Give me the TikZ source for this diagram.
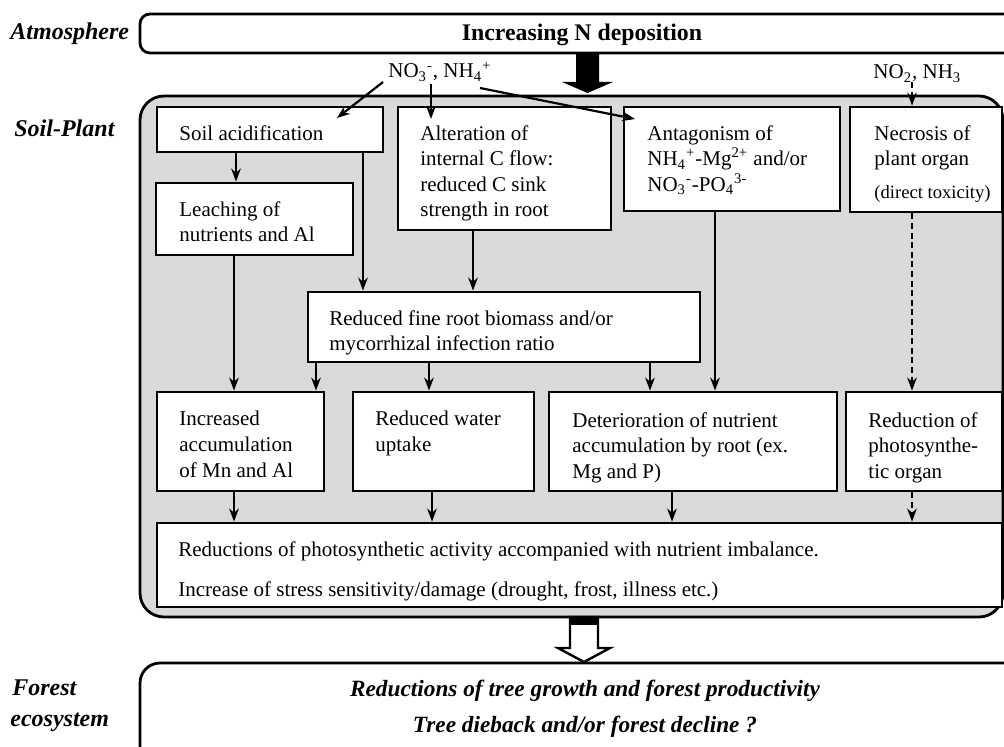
\documentclass[tikz,border=0pt]{standalone}
\usepackage{fontspec}
\setmainfont{Liberation Serif}
\usetikzlibrary{arrows.meta,fit,calc}
\begin{document}
\begin{tikzpicture}[x=0.5pt,y=-0.5pt,
  box/.style={draw, line width=1.4pt, fill=white, inner sep=0pt, rectangle},
  container/.style={draw, line width=1.4pt, inner sep=0pt, rectangle},
  txt/.style={anchor=north west, inner sep=0pt, align=left, font=\fontsize{10.5}{12.8}\selectfont},
  arr/.style={line width=1.1pt, -{Stealth[length=6.5pt,width=4.8pt]}},
  darr/.style={arr, dash pattern=on 3pt off 1.8pt},
  lbl/.style={anchor=base west, inner sep=0pt, font=\fontsize{12}{15}\selectfont\bfseries\itshape},
  ftxt/.style={anchor=base, inner sep=0pt, font=\fontsize{11.65}{14}\selectfont\bfseries\itshape},
  chem/.style={anchor=base west, inner sep=0pt, font=\fontsize{10.5}{12.8}\selectfont}
]
\useasboundingbox (0,0) rectangle (1004,747);
\clip (0,0) rectangle (1004,747);

% side labels
\node[lbl] (lAtm) at (10,40) {Atmosphere};
\node[lbl] (lSoil) at (14,137) {Soil-Plant};
\node[lbl] (lFor1) at (12,695) {Forest};
\node[lbl] (lFor2) at (10,726) {ecosystem};

% containers
\node[container, rounded corners=5pt, fit={(140,14)(1040,53)}] (atm) {};
\node[container, rounded corners=12pt, fill=black!15, fit={(140,96)(1003,617)}] (sp) {};
\node[container, rounded corners=10pt, fit={(140,663)(1040,770)}] (forest) {};

\node[anchor=base, inner sep=0pt, font=\fontsize{11.9}{14}\selectfont\bfseries] (title) at (582,41) {Increasing N deposition};

% chemical labels
\node[chem] (no3) at (388,78) {NO\textsubscript{3}\textsuperscript{-}, NH\textsubscript{4}\textsuperscript{+}};
\node[chem] (no2) at (873,79) {NO\textsubscript{2}, NH\textsubscript{3}};

% boxes
\node[box, fit={(157,107)(383,152)}] (soil) {};
\node[box, fit={(398,107)(611,230)}] (alter) {};
\node[box, fit={(624,107)(840,211)}] (antag) {};
\node[box, fit={(850,107)(1002,212)}] (necro) {};
\node[box, fit={(156,183)(353,255)}] (leach) {};
\node[box, fit={(308,292)(700,362)}] (fine) {};
\node[box, fit={(157,392)(324,491)}] (incr) {};
\node[box, fit={(353,392)(534,491)}] (water) {};
\node[box, fit={(549,392)(837,491)}] (deter) {};
\node[box, fit={(846,392)(1002,491)}] (photo) {};
\node[box, fit={(157,523)(1002,607)}] (reduc) {};

% texts
\node[txt] (soilT) at (179,125) {Soil acidification};
\node[txt] (alterT) at (420,125) {Alteration of\\internal C flow:\\reduced C sink\\strength in root};
\node[txt] (antagT) at (647,125) {Antagonism of\\NH\textsubscript{4}\textsuperscript{+}-Mg\textsuperscript{2+} and/or\\NO\textsubscript{3}\textsuperscript{-}-PO\textsubscript{4}\textsuperscript{3-}};
\node[txt] (necroT) at (874,125) {Necrosis of\\plant organ};
\node[anchor=base west, inner sep=0pt, font=\fontsize{9.3}{11}\selectfont] (necroS) at (874,199) {(direct toxicity)};
\node[txt] (leachT) at (179,201) {Leaching of\\nutrients and Al};
\node[txt] (fineT) at (329,310) {Reduced fine root biomass and/or\\mycorrhizal infection ratio};
\node[txt] (incrT) at (179,411) {Increased\\accumulation\\of Mn and Al};
\node[txt] (waterT) at (375,411) {Reduced water\\uptake};
\node[txt] (deterT) at (572,412) {Deterioration of nutrient\\accumulation by root (ex.\\Mg and P)};
\node[txt] (photoT) at (868,412) {Reduction of\\photosynthe-\\tic organ};
\node[txt] (reducT) at (178,541) {Reductions of photosynthetic activity accompanied with nutrient imbalance.\\[7.3pt]Increase of stress sensitivity/damage (drought, frost, illness etc.)};

% forest texts
\node[ftxt] (f1) at (585,696) {Reductions of tree growth and forest productivity};
\node[ftxt] (f2) at (585,732) {Tree dieback and/or forest decline ?};

% big arrows
\fill (576,53) -- (599,53) -- (599,82) -- (613,82) -- (587.5,93) -- (562,82) -- (576,82) -- cycle;
\draw[line width=1.2pt, fill=white] (570,617) -- (598,617) -- (598,648) -- (610,648) -- (584,662) -- (558,648) -- (570,648) -- cycle;
\fill (570,617) rectangle (598,625);

% column coordinates
\coordinate (c234) at (234,0);
\coordinate (c236) at (236,0);
\coordinate (c316) at (316,0);
\coordinate (c363) at (363,0);
\coordinate (c429) at (429,0);
\coordinate (c432) at (432,0);
\coordinate (c473) at (473,0);
\coordinate (c650) at (650,0);
\coordinate (c672) at (672,0);
\coordinate (c715) at (715,0);
\coordinate (c912) at (912,0);

% deposition arrows
\coordinate (s1) at (383,82);
\coordinate (e1) at (337,118);
\coordinate (s2) at (431,84);
\coordinate (e2) at (431,119);
\coordinate (s3) at (480,88);
\coordinate (e3) at (635,119);
\coordinate (s4) at (912,82);
\draw[arr] (s1) -- (e1);
\draw[arr] (s2) -- (e2);
\draw[arr] (s3) -- (e3);
\draw[darr] (s4) -- (necro.north -| c912);

% internal arrows
\draw[arr] (soil.south -| c236) -- (leach.north -| c236);
\draw[arr] (soil.south -| c363) -- (fine.north -| c363);
\draw[arr] (alter.south -| c473) -- (fine.north -| c473);
\draw[arr] (antag.south -| c715) -- (deter.north -| c715);
\draw[darr] (necro.south -| c912) -- (photo.north -| c912);
\draw[arr] (leach.south -| c234) -- (incr.north -| c234);
\draw[arr] (fine.south -| c316) -- (incr.north -| c316);
\draw[arr] (fine.south -| c429) -- (water.north -| c429);
\draw[arr] (fine.south -| c650) -- (deter.north -| c650);
\draw[arr] (incr.south -| c234) -- (reduc.north -| c234);
\draw[arr] (water.south -| c432) -- (reduc.north -| c432);
\draw[arr] (deter.south -| c672) -- (reduc.north -| c672);
\draw[darr] (photo.south -| c912) -- (reduc.north -| c912);
\end{tikzpicture}
\end{document}
